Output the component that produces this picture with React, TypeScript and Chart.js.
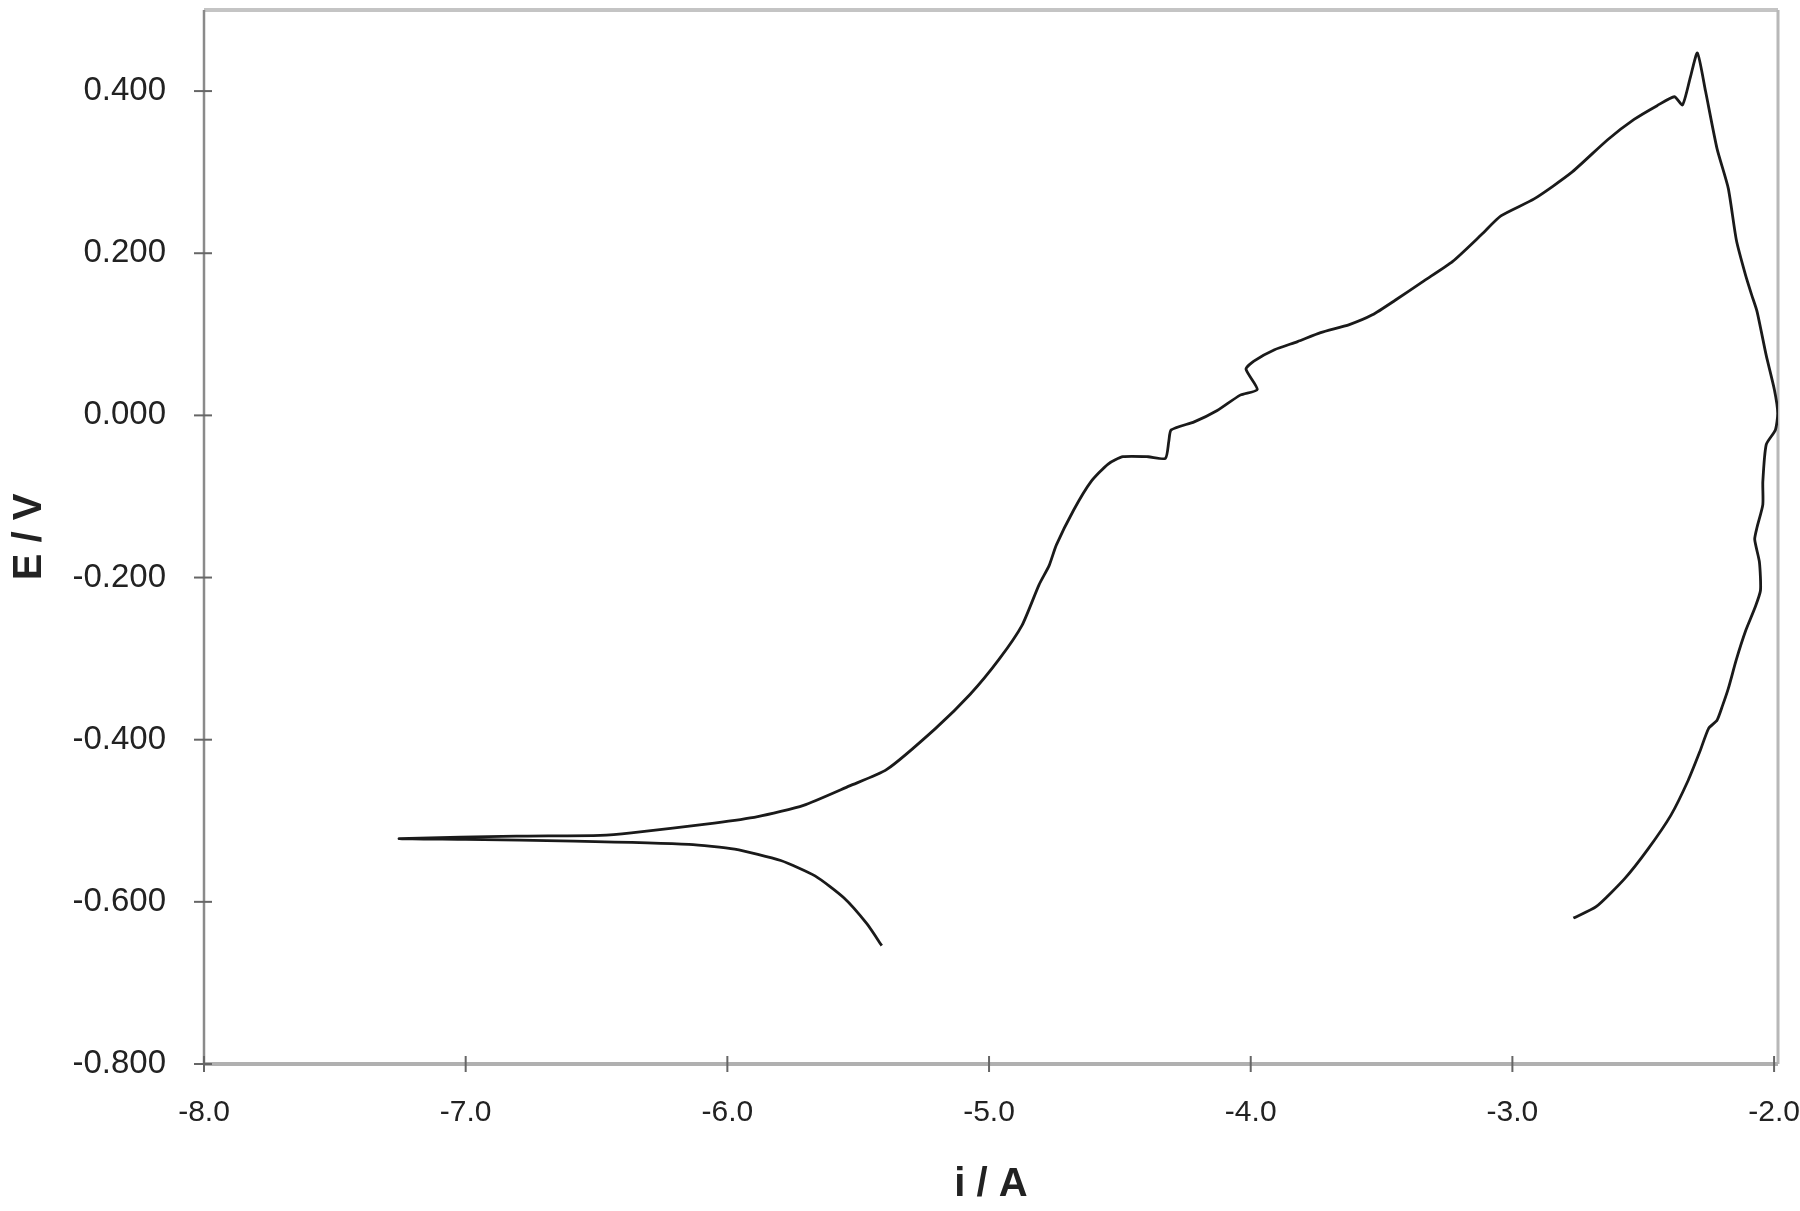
import React, { useEffect, useRef } from "react";
import { Chart, registerables } from "chart.js";

Chart.register(...registerables);

// log current density (x) and potential (y), in scan order
const currentLog = [
  -5.41, -5.467, -5.555, -5.665, -5.796, -5.972, -6.147, -6.586, -7.0, -7.254,
  -6.806, -6.486, -6.367, -6.05, -5.884, -5.709, -5.533, -5.392, -5.204, -5.072,
  -4.962, -4.874, -4.809, -4.77, -4.743, -4.677, -4.611, -4.545, -4.488, -4.392,
  -4.326, -4.313, -4.304, -4.216, -4.128, -4.04, -3.975, -4.018, -3.988, -3.909,
  -3.821, -3.733, -3.623, -3.535, -3.448, -3.338, -3.228, -3.118, -3.044, -2.917,
  -2.776, -2.636, -2.535, -2.447, -2.381, -2.35, -2.32, -2.293,
  -2.262, -2.218, -2.175, -2.144, -2.109, -2.085, -2.065, -2.03, -1.999, -1.986,
  -1.995, -2.03, -2.043, -2.043, -2.065, -2.074, -2.056, -2.052, -2.074, -2.109,
  -2.144, -2.175, -2.197, -2.218, -2.25, -2.284, -2.328, -2.394, -2.482, -2.57,
  -2.68, -2.767,
];

const potential = [
  -0.654, -0.627, -0.595, -0.568, -0.549, -0.535, -0.529, -0.525, -0.523, -0.522,
  -0.519, -0.518, -0.515, -0.503, -0.495, -0.481, -0.457, -0.437, -0.386, -0.344,
  -0.301, -0.259, -0.209, -0.185, -0.16, -0.117, -0.082, -0.06, -0.051, -0.051,
  -0.053, -0.032, -0.018, -0.008, 0.006, 0.025, 0.032, 0.057, 0.067, 0.081,
  0.091, 0.102, 0.112, 0.124, 0.142, 0.166, 0.19, 0.223, 0.246, 0.267,
  0.299, 0.34, 0.365, 0.382, 0.393, 0.383, 0.417, 0.447,
  0.4, 0.329, 0.28, 0.216, 0.173, 0.148, 0.128, 0.074, 0.032, 0.003,
  -0.018, -0.036, -0.082, -0.11, -0.138, -0.153, -0.181, -0.216, -0.238, -0.266,
  -0.301, -0.337, -0.358, -0.376, -0.386, -0.415, -0.45, -0.493, -0.535, -0.571,
  -0.606, -0.62,
];

const xTickValues = [-8, -7, -6, -5, -4, -3, -2];
const yTickValues = [-0.8, -0.6, -0.4, -0.2, 0, 0.2, 0.4];

const xTitle = "i / A";
const yTitle = "E / V";

const FONT = "'Liberation Sans', Arial, sans-serif";

const framePlugin = {
  id: "frame",
  beforeDatasetsDraw(chart: any) {
    const { ctx, chartArea } = chart;
    const { left, right, top, bottom } = chartArea;
    ctx.save();
    ctx.strokeStyle = "#c4c4c4";
    ctx.lineWidth = 4;
    ctx.beginPath();
    ctx.moveTo(left, top);
    ctx.lineTo(right, top);
    ctx.stroke();
    ctx.strokeStyle = "#b8b8b8";
    ctx.lineWidth = 3;
    ctx.beginPath();
    ctx.moveTo(right, top);
    ctx.lineTo(right, bottom);
    ctx.stroke();
    ctx.strokeStyle = "#b0b0b0";
    ctx.lineWidth = 4;
    ctx.beginPath();
    ctx.moveTo(left, bottom);
    ctx.lineTo(right, bottom);
    ctx.stroke();
    ctx.strokeStyle = "#8a8a8a";
    ctx.lineWidth = 2.5;
    ctx.beginPath();
    ctx.moveTo(left, top);
    ctx.lineTo(left, bottom);
    ctx.stroke();
    ctx.strokeStyle = "#666";
    ctx.lineWidth = 2;
    const xs = chart.scales.x;
    const ys = chart.scales.y;
    xs.ticks.forEach((t: any) => {
      const px = xs.getPixelForValue(t.value);
      ctx.beginPath();
      ctx.moveTo(px, bottom - 8);
      ctx.lineTo(px, bottom + 8);
      ctx.stroke();
    });
    ys.ticks.forEach((t: any) => {
      const py = ys.getPixelForValue(t.value);
      ctx.beginPath();
      ctx.moveTo(left - 10, py);
      ctx.lineTo(left + 8, py);
      ctx.stroke();
    });
    ctx.restore();
  },
};

export default function App() {
  const ref = useRef<HTMLCanvasElement | null>(null);

  useEffect(() => {
    if (!ref.current) return;
    const points = currentLog.map((x, i) => ({ x, y: potential[i] }));
    const chart = new Chart(ref.current, {
      type: "scatter",
      data: {
        datasets: [
          {
            data: points,
            showLine: true,
            borderColor: "#1a1a1a",
            borderWidth: 2.8,
            pointRadius: 0,
            tension: 0.2,
            fill: false,
          },
        ],
      },
      options: {
        animation: false,
        responsive: true,
        maintainAspectRatio: false,
        layout: { padding: { top: 10, right: 22, left: 0, bottom: 0 } },
        plugins: {
          legend: { display: false },
          tooltip: { enabled: false },
        },
        scales: {
          x: {
            type: "linear",
            min: -8,
            max: -1.985,
            afterBuildTicks: (scale: any) => {
              scale.ticks = xTickValues.map((v) => ({ value: v }));
            },
            afterFit: (scale: any) => {
              scale.height = 147;
              scale.paddingLeft = 0;
              scale.paddingRight = 0;
            },
            grid: { display: false, drawTicks: false },
            border: { display: false },
            ticks: {
              padding: 31,
              color: "#222",
              font: { family: FONT, size: 30 },
              maxRotation: 0,
              autoSkip: false,
              callback: (v: any) => Number(v).toFixed(1),
            },
            title: {
              display: true,
              text: xTitle,
              color: "#222",
              font: { family: FONT, size: 40, weight: "bold" },
              padding: { top: 0, bottom: 2 },
            },
          },
          y: {
            type: "linear",
            min: -0.8,
            max: 0.5,
            afterBuildTicks: (scale: any) => {
              scale.ticks = yTickValues.map((v) => ({ value: v }));
            },
            afterFit: (scale: any) => {
              scale.width = 204;
              scale.paddingTop = 0;
              scale.paddingBottom = 0;
            },
            grid: { display: false, drawTicks: false },
            border: { display: false },
            ticks: {
              padding: 38,
              color: "#222",
              font: { family: FONT, size: 33 },
              autoSkip: false,
              callback: (v: any) => Number(v).toFixed(3),
            },
            title: {
              display: true,
              text: yTitle,
              color: "#222",
              font: { family: FONT, size: 40, weight: "bold" },
              padding: { top: 6, bottom: 0 },
            },
          },
        },
      },
      plugins: [framePlugin],
    });
    return () => chart.destroy();
  }, []);

  return (
    <div
      style={{
        position: "absolute",
        left: 0,
        top: 0,
        width: 1800,
        height: 1211,
        background: "#fff",
      }}
    >
      <canvas ref={ref} />
    </div>
  );
}
